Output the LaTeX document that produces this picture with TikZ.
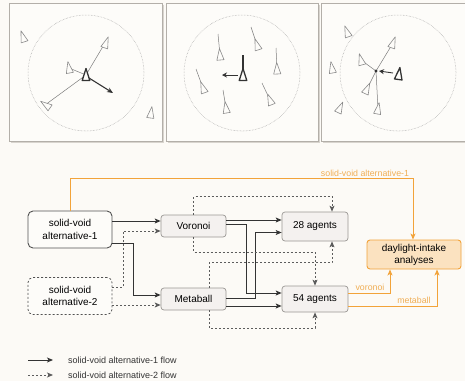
\documentclass[tikz,border=0pt]{standalone}
\usepackage{fontspec}
\setmainfont{Liberation Sans}
\usetikzlibrary{arrows.meta,calc}
\definecolor{bg}{HTML}{FCFAF6}
\definecolor{panelfill}{HTML}{FDFCF9}
\definecolor{panelline}{HTML}{B3AFA9}
\definecolor{shadowc}{HTML}{D8D4CE}
\definecolor{agentc}{HTML}{8A8A8A}
\definecolor{darkc}{HTML}{333333}
\definecolor{boxfill}{HTML}{F4F1EF}
\definecolor{boxline}{HTML}{9A9794}
\definecolor{orangec}{HTML}{F2A33A}
\definecolor{orangefill}{HTML}{FBE2C0}
\definecolor{orangetext}{HTML}{F0AE55}
\tikzset{
  panel/.style={draw=panelline, line width=1pt, fill=panelfill},
  ring/.style={draw=agentc!80, densely dotted, line width=0.5pt},
  agentshape/.style={draw=agentc, fill=panelfill, line width=0.6pt, line join=round},
  agent/.pic={\draw[agentshape] (0,-6.5) -- (3.6,5) -- (-3.6,5) -- cycle;},
  bigagent/.pic={\draw[draw=darkc, fill=panelfill, line width=1.3pt, line join=round] (0,-6.5) -- (3.8,5.5) -- (-3.8,5.5) -- cycle;},
  link/.style={draw=agentc!90!black, line width=0.5pt},
  tip/.style={-{Stealth[length=6pt,width=5pt,inset=1.5pt]}},
  flowa/.style={tip, draw=darkc, line width=0.9pt},
  flowb/.style={tip, draw=darkc!80, line width=0.8pt, dash pattern=on 2pt off 2pt},
  oflow/.style={-{Stealth[length=6pt,width=5pt,inset=1.5pt]}, draw=orangec, line width=0.9pt},
  gbox/.style={draw=boxline, fill=boxfill, rounded corners=3pt, line width=0.7pt, font=\fontsize{10}{12}\selectfont, align=center, inner sep=0pt},
  svbox/.style={draw=darkc!85, fill=panelfill, rounded corners=5pt, line width=0.9pt, font=\fontsize{10}{12.5}\selectfont, align=center, inner sep=0pt, minimum width=84pt, minimum height=37pt},
  olabel/.style={text=orangetext, font=\fontsize{8.8}{10}\selectfont, inner sep=1pt},
  legtext/.style={font=\fontsize{9}{10}\selectfont, text=darkc, anchor=west, inner sep=0pt}
}
\begin{document}
\begin{tikzpicture}[x=1pt,y=-1pt]
\useasboundingbox[fill=bg] (0,0) rectangle (465,381);
% panels
\foreach \a/\b in {9/162,166/318,321/468}{
  \fill[shadowc] (\a+1.5,4.5) rectangle (\b+1.5,142.5);
  \draw[panel] (\a,3) rectangle (\b,141);
}
% ---- panel 1
\draw[ring] (86,73) circle (58pt);
\draw[link] (86,75) -- (105,43);
\draw[link] (86,75) -- (45,105);
\draw[link] (86,75) -- (69,68);
\pic[rotate=18] at (23,37) {agent};
\pic[rotate=-20] at (106,43) {agent};
\pic[rotate=10] at (69,68) {agent};
\pic[rotate=55] at (46,105) {agent};
\pic[rotate=-8] at (151,113) {agent};
\draw[-{Stealth[length=6pt,width=5pt]}, draw=darkc, line width=1.1pt] (89,78) -- (113,93);
\pic at (86,75) {bigagent};
% ---- panel 2
\draw[ring] (242,73) circle (58pt);
\foreach \cx/\cy/\tx/\ty/\r in {220/55/218/34/5, 257/45/251/27/18, 277/69/276/48/3, 203/88/196/69/20, 226/108/223/90/9, 270/100/262/83/22}{
  \draw[link] (\tx,\ty) -- (\cx,\cy);
  \pic[rotate=\r] at (\cx,\cy) {agent};
}
\draw[-{Stealth[length=5pt,width=5pt]}, draw=darkc, line width=0.9pt] (238,75) -- (222,75);
\pic at (243,75) {bigagent};
\draw[draw=darkc, line width=1.3pt] (243,55) -- (243,70);
% ---- panel 3
\draw[ring] (398,73) circle (58pt);
\foreach \px/\py/\r in {393/43/-20, 361/60/15, 367/89/-25, 378/109/-10}{
  \draw[link] (376,71) -- (\px,\py);
  \pic[rotate=\r] at (\px,\py) {agent};
}
\pic[rotate=20] at (347,32) {agent};
\pic[rotate=10] at (332,68) {agent};
\pic[rotate=-25] at (340,108) {agent};
\fill[darkc] (376,71) circle (1.6pt);
\draw[-{Stealth[length=5pt,width=5pt]}, draw=darkc, line width=0.9pt] (393,73) -- (379,71);
\pic[rotate=-8] at (399,74) {bigagent};

% ---- flow diagram
\node[svbox] (sv1) at (70,229.5) {solid-void\\alternative-1};
\node[svbox, dash pattern=on 2pt off 2pt, line width=0.8pt] (sv2) at (70,296) {solid-void\\alternative-2};
\node[gbox, minimum width=65pt, minimum height=22pt] (voro) at (193.5,226) {Voronoi};
\node[gbox, minimum width=65pt, minimum height=22pt] (meta) at (193.5,299) {Metaball};
\node[gbox, minimum width=66pt, minimum height=29pt] (a28) at (315,226.5) {28 agents};
\node[gbox, minimum width=66pt, minimum height=26pt] (a54) at (315,299) {54 agents};
\node[draw=orangec, fill=orangefill, rounded corners=3pt, line width=0.9pt, font=\fontsize{10}{12}\selectfont, align=center, inner sep=0pt, minimum width=94pt, minimum height=29pt] (day) at (414,254.5) {daylight-intake\\analyses};

% solid flows
\draw[flowa] ([yshift=8.5pt]sv1.east) -- ([yshift=8.5pt]sv1.east -| voro.west);
\draw[flowa] ([yshift=-13.5pt]sv1.east) -- ++(21,0) |- ([yshift=4pt]meta.west);
\draw[flowa] ([yshift=6pt]voro.east) -- ([yshift=6pt]voro.east -| a28.west);
\draw[flowa] ([yshift=2pt]voro.east) -- ++(20,0) |- ([yshift=6pt]a54.west);
\draw[flowa] ([yshift=1pt]meta.east) -- ++(29,0) |- ([yshift=-6pt]a28.west);
\draw[flowa] ([yshift=-7pt]meta.east) -- ([yshift=-7pt]meta.east -| a54.west);
% dashed flows
\draw[flowb] ([yshift=9pt]sv2.east) -- ++(11,0) |- ([yshift=-5pt]voro.west);
\draw[flowb] ([yshift=-9pt]sv2.east) -- ([yshift=-9pt]sv2.east -| meta.west);
\draw[flowb] (voro.north) -- ++(0,-18) -| ([xshift=17pt]a28.north);
\draw[flowb] (voro.south) -- ++(0,15) -| (a54.north);
\draw[flowb] ([xshift=15.5pt]meta.north) -- ++(0,-25) -| ([xshift=17pt]a28.south);
\draw[flowb] ([xshift=15.5pt]meta.south) -- ++(0,18) -| (a54.south);
% orange flows
\draw[oflow] (sv1.north) -- ++(0,-32) -| node[olabel, pos=0.43, above=1pt] {solid-void alternative-1} ([xshift=-1pt]day.north);
\draw[oflow] ([yshift=6pt]a54.east) -| node[olabel, pos=0.26, above=0.5pt] {voronoi} ([xshift=-24pt]day.south);
\draw[oflow] ([yshift=-7pt]a54.east) -| node[olabel, pos=0.37, above=0.5pt] {metaball} ([xshift=23pt]day.south);

% legend
\coordinate (la1) at (28,360); \coordinate (la2) at (53,360);
\coordinate (lb1) at (28,375); \coordinate (lb2) at (53,375);
\draw[flowa] (la1) -- (la2);
\draw[flowb] (lb1) -- (lb2);
\node[legtext] (lta) at (68,360) {solid-void alternative-1 flow};
\node[legtext] (ltb) at (68,375) {solid-void alternative-2 flow};
\end{tikzpicture}
\end{document}
